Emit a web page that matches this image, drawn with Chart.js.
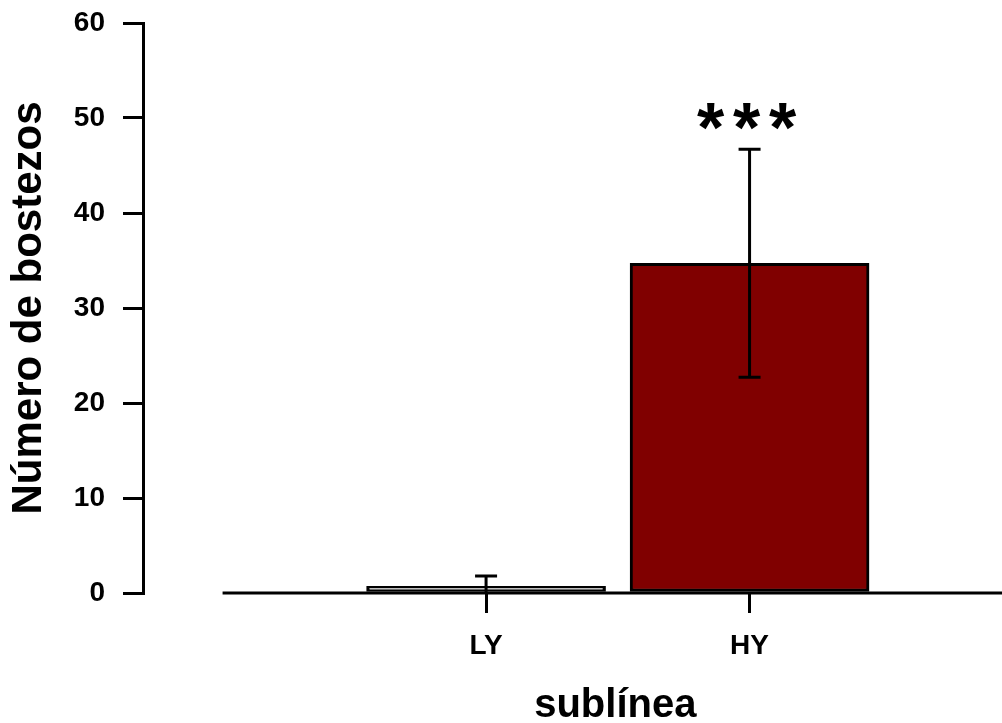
<!DOCTYPE html>
<html>
<head>
<meta charset="utf-8">
<script src="https://cdn.jsdelivr.net/npm/chart.js@4.4.1/dist/chart.umd.min.js"></script>
<style>
  html, body { margin: 0; padding: 0; background: #ffffff; }
  #wrap { width: 1002px; height: 723px; position: relative; }
</style>
</head>
<body>
<div id="wrap"><canvas id="c" width="1002" height="723"></canvas></div>
<script>
// ---- data ----
const categories = ['LY', 'HY'];
const means = [0.7, 34.7];
const errors = [1.1, 12.0];
const barColors = ['#ffffff', '#800000'];
const yTicks = [0, 10, 20, 30, 40, 50, 60];
const significance = ['', '***'];
const yTitle = 'Número de bostezos';
const xTitle = 'sublínea';

const FONT = "Arial, 'Liberation Sans', sans-serif";

const points = categories.map((c, i) => ({ x: i + 1, y: means[i] }));

const extras = {
  id: 'extras',
  afterDatasetsDraw(chart) {
    const ctx = chart.ctx;
    const xs = chart.scales.x, ys = chart.scales.y;
    const ca = chart.chartArea;
    ctx.save();
    // baseline (x axis line), starting at x = 0
    ctx.strokeStyle = '#000';
    ctx.lineWidth = 3;
    ctx.beginPath();
    ctx.moveTo(xs.getPixelForValue(0), ys.getPixelForValue(0));
    ctx.lineTo(ca.right, ys.getPixelForValue(0));
    ctx.stroke();

    // error bars
    const cap = 11;
    points.forEach((p, i) => {
      const x = xs.getPixelForValue(p.x);
      const yTop = ys.getPixelForValue(means[i] + errors[i]);
      const lowVal = means[i] - errors[i];
      const yLow = ys.getPixelForValue(Math.max(0, lowVal));
      ctx.beginPath();
      ctx.moveTo(x, yLow);
      ctx.lineTo(x, yTop);
      ctx.moveTo(x - cap, yTop);
      ctx.lineTo(x + cap, yTop);
      if (lowVal > 0) {
        ctx.moveTo(x - cap, yLow);
        ctx.lineTo(x + cap, yLow);
      }
      ctx.stroke();
    });

    // significance stars
    ctx.fillStyle = '#000';
    ctx.font = 'bold 70px ' + FONT;
    ctx.textAlign = 'center';
    ctx.textBaseline = 'alphabetic';
    points.forEach((p, i) => {
      const s = significance[i];
      if (!s) return;
      const cx = xs.getPixelForValue(p.x);
      const cy = ys.getPixelForValue(50);
      const m = ctx.measureText('*');
      const asc = m.actualBoundingBoxAscent, desc = m.actualBoundingBoxDescent;
      const baseY = cy - 2 + (asc - desc) / 2;
      const step = 36;
      const n = s.length;
      for (let k = 0; k < n; k++) {
        ctx.fillText('*', cx - 3 + (k - (n - 1) / 2) * step, baseY);
      }
    });

    // x title
    ctx.font = 'bold 40px ' + FONT;
    ctx.textAlign = 'center';
    ctx.textBaseline = 'middle';
    const tx = (xs.getPixelForValue(0) + ca.right) / 2;
    ctx.fillText(xTitle, tx + 3, ys.getPixelForValue(0) + 113);
    ctx.restore();
  }
};

new Chart(document.getElementById('c'), {
  type: 'bar',
  data: {
    datasets: [{
      data: points,
      backgroundColor: barColors,
      borderColor: '#000',
      borderWidth: 3,
      borderSkipped: false,
      barThickness: 239
    }]
  },
  options: {
    responsive: false,
    animation: false,
    layout: { padding: { top: 23, right: 0, left: 0, bottom: 0 } },
    plugins: { legend: { display: false }, tooltip: { enabled: false } },
    scales: {
      x: {
        type: 'linear',
        offset: false,
        min: -0.302,
        max: 2.958,
        afterBuildTicks: (s) => { s.ticks = categories.map((c, i) => ({ value: i + 1 })); },
        afterFit: (s) => { s.height = 130; s.paddingLeft = 0; s.paddingRight = 0; },
        ticks: {
          autoSkip: false,
          maxRotation: 0,
          padding: 16,
          color: '#000',
          font: { family: FONT, size: 28, weight: 'bold' },
          callback: (v) => categories[v - 1] || ''
        },
        grid: { offset: false, drawOnChartArea: false, drawTicks: true, tickLength: 20, lineWidth: 3, color: '#000' },
        border: { display: false }
      },
      y: {
        min: 0,
        max: 60,
        afterBuildTicks: (s) => { s.ticks = yTicks.map(v => ({ value: v })); },
        afterFit: (s) => { s.width = 143; s.paddingTop = 0; s.paddingBottom = 0; },
        ticks: {
          padding: 18,
          color: '#000',
          font: { family: FONT, size: 28, weight: 'bold' }
        },
        grid: { drawOnChartArea: false, drawTicks: true, tickLength: 20, lineWidth: 3, color: '#000' },
        border: { display: true, width: 3, color: '#000' },
        title: {
          display: true,
          text: yTitle,
          color: '#000',
          font: { family: FONT, size: 42, weight: 'bold', lineHeight: 1.2 },
          padding: { top: 4, bottom: 0 }
        }
      }
    }
  },
  plugins: [extras]
});
</script>
</body>
</html>
